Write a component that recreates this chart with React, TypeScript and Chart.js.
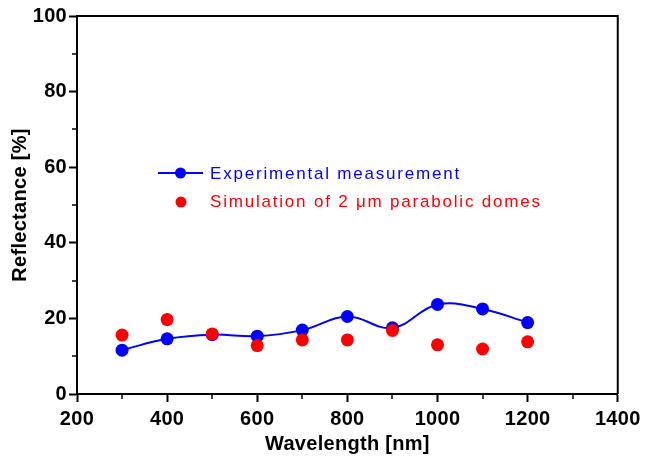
import React, { useEffect, useRef } from "react";
import { Chart, registerables } from "chart.js";

Chart.register(...registerables);

// Wavelengths in nm
const wavelengths = [300, 400, 500, 600, 700, 800, 900, 1000, 1100, 1200];
// Measured reflectance [%]
const experimental = [11.6, 14.6, 15.7, 15.3, 16.9, 20.5, 17.5, 23.7, 22.5, 18.9];
// Simulated reflectance of 2 µm parabolic domes [%]
const simulation = [15.6, 19.7, 15.9, 12.8, 14.3, 14.3, 16.8, 13.0, 11.9, 13.8];

const xMinorTicks = [300, 500, 700, 900, 1100, 1300];
const yMinorTicks = [10, 30, 50, 70, 90];

const legendLabels = ["Experimental measurement", "Simulation of 2 \u03bcm parabolic domes"];

const BLUE = "#0000ff";
const RED = "#ff0000";
const FONT = "'Liberation Sans', Arial, sans-serif";

const framePlugin = {
  id: "frame",
  beforeDraw(chart: any) {
    chart.ctx.letterSpacing = "0.3px";
  },
  afterDraw(chart: any) {
    const { ctx, chartArea } = chart;
    const { left, right, top, bottom } = chartArea;
    const xs = chart.scales.x;
    const ys = chart.scales.y;
    ctx.save();
    ctx.strokeStyle = "#000";
    ctx.lineWidth = 2;
    // top and right edges of the box
    ctx.beginPath();
    ctx.moveTo(left, top);
    ctx.lineTo(right, top);
    ctx.lineTo(right, bottom);
    ctx.stroke();
    // minor ticks
    ctx.lineWidth = 1.5;
    ctx.beginPath();
    xMinorTicks.forEach((v) => {
      const px = Math.round(xs.getPixelForValue(v));
      ctx.moveTo(px, bottom);
      ctx.lineTo(px, bottom + 5);
    });
    yMinorTicks.forEach((v) => {
      const py = Math.round(ys.getPixelForValue(v));
      ctx.moveTo(left, py);
      ctx.lineTo(left - 5, py);
    });
    ctx.stroke();

    // legend
    ctx.letterSpacing = "1.8px";
    ctx.font = `17px ${FONT}`;
    ctx.textBaseline = "middle";
    ctx.textAlign = "left";
    ctx.strokeStyle = BLUE;
    ctx.lineWidth = 2;
    ctx.beginPath();
    ctx.moveTo(158, 173);
    ctx.lineTo(203, 173);
    ctx.stroke();
    ctx.fillStyle = BLUE;
    ctx.beginPath();
    ctx.arc(180.5, 173, 5.5, 0, Math.PI * 2);
    ctx.fill();
    ctx.fillText(legendLabels[0], 210, 174);
    ctx.fillStyle = RED;
    ctx.beginPath();
    ctx.arc(181, 202, 5.5, 0, Math.PI * 2);
    ctx.fill();
    ctx.fillText(legendLabels[1], 210, 202);
    ctx.restore();
  },
};

const plainNumber = (v: any) => String(v);

export default function App() {
  const canvasRef = useRef<HTMLCanvasElement | null>(null);

  useEffect(() => {
    if (!canvasRef.current) return;
    const chart = new Chart(canvasRef.current, {
      type: "scatter",
      data: {
        datasets: [
          {
            label: legendLabels[1],
            data: wavelengths.map((x, i) => ({ x, y: simulation[i] })),
            backgroundColor: RED,
            borderColor: RED,
            pointRadius: 6.5,
            pointBorderWidth: 0,
            showLine: false,
            order: 1,
          },
          {
            label: legendLabels[0],
            data: wavelengths.map((x, i) => ({ x, y: experimental[i] })),
            backgroundColor: BLUE,
            borderColor: BLUE,
            borderWidth: 2,
            pointRadius: 6.5,
            pointBorderWidth: 0,
            showLine: true,
            tension: 0.4,
            order: 2,
          },
        ],
      },
      options: {
        animation: false,
        responsive: false,
        layout: { padding: { top: 16, right: 25, left: 0, bottom: 0 } },
        plugins: {
          legend: { display: false },
          tooltip: { enabled: false },
        },
        scales: {
          x: {
            type: "linear",
            min: 200,
            max: 1400,
            afterFit: (s: any) => {
              s.height = 64;
            },
            ticks: {
              stepSize: 200,
              color: "#000",
              padding: 5,
              callback: plainNumber,
              font: { family: FONT, size: 20, weight: "bold" },
            },
            grid: {
              drawOnChartArea: false,
              tickLength: 8,
              tickWidth: 2,
              tickColor: "#000",
            },
            border: { display: true, color: "#000", width: 2 },
            title: {
              display: true,
              text: "Wavelength [nm]",
              color: "#000",
              padding: { top: 0, bottom: 2 },
              font: { family: FONT, size: 20, weight: "bold" },
            },
          },
          y: {
            type: "linear",
            min: 0,
            max: 100,
            afterFit: (s: any) => {
              s.width = 77;
            },
            ticks: {
              stepSize: 20,
              color: "#000",
              padding: 2,
              callback: plainNumber,
              font: { family: FONT, size: 20, weight: "bold" },
            },
            grid: {
              drawOnChartArea: false,
              tickLength: 8,
              tickWidth: 2,
              tickColor: "#000",
            },
            border: { display: true, color: "#000", width: 2 },
            title: {
              display: true,
              text: "Reflectance [%]",
              color: "#000",
              padding: { top: 8, bottom: 0 },
              font: { family: FONT, size: 20, weight: "bold" },
            },
          },
        },
      },
      plugins: [framePlugin],
    });
    return () => chart.destroy();
  }, []);

  return (
    <div style={{ position: "fixed", left: 0, top: 0, width: 645, height: 458, background: "#fff" }}>
      <canvas ref={canvasRef} width={645} height={458} />
    </div>
  );
}
